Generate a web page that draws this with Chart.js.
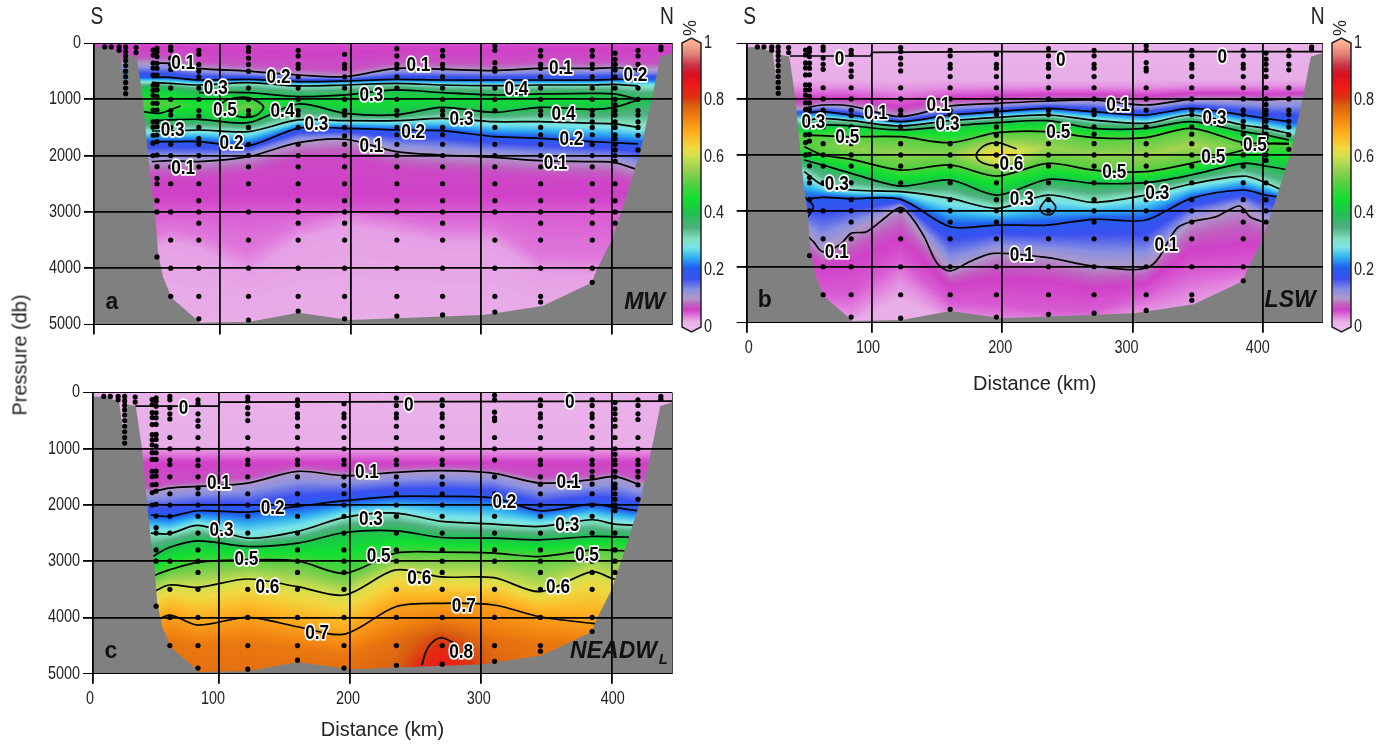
<!DOCTYPE html>
<html lang="en">
<head>
<meta charset="UTF-8">
<title>Tracer sections</title>
<script src="https://cdn.jsdelivr.net/npm/chart.js@4"></script>
<style>
  body { margin: 0; background: #fff; width: 1390px; height: 744px; overflow: hidden; position: relative; }
  canvas { position: absolute; }
  #pressure { position: absolute; left: 20px; top: 355px; transform: translate(-50%, -50%) rotate(-90deg);
    font: 20px "Liberation Sans", sans-serif; color: #222; white-space: nowrap; }
</style>
</head>
<body>
<canvas id="panelA" width="680" height="370" style="left:0;top:0"></canvas>
<canvas id="panelB" width="600" height="396" style="left:730px;top:0"></canvas>
<canvas id="panelC" width="680" height="367" style="left:0;top:375px"></canvas>
<canvas id="barA" width="60" height="360" style="left:670px;top:0"></canvas>
<canvas id="barB" width="60" height="360" style="left:1320px;top:0"></canvas>
<div id="pressure">Pressure (db)</div>
<script>
// axes
const xMin = 3.8, xMax = 446;
const xTickValues = [3.8, 100, 200, 300, 400, 446];
const xTickLabels = ['0', '100', '200', '300', '400', ''];
const yTickValues = [0, 1000, 2000, 3000, 4000, 5000];
const barTicks = [0, 0.2, 0.4, 0.6, 0.8, 1];

// colour scale
const cmapStops = [0, .02, .04, .06, .08, .1, .13, .17, .21, .245, .28, .31, .35, .4, .45, .5, .55, .6, .63, .68, .74, .78, .81, .85, .89, .92, .96, 1];
const cmapColors = ['#EDB8ED', '#E8AEE8', '#E078DC', '#D040C8', '#C060C0', '#B098C8', '#8A90E0', '#3A50F0', '#2060F0', '#30B0F0', '#78E4E8', '#80E0C0', '#50B080', '#20C050', '#10E030', '#50D040', '#90D050', '#D0E050', '#F0D840', '#FFB020', '#F08010', '#D86010', '#E03010', '#F01818', '#D81020', '#C83048', '#E08078', '#FFB090'];

// sea floor
const floorDist = [3.8, 12.3, 23.7, 28.3, 30.1, 36.5, 41.3, 45.2, 48, 50.5, 52.8, 56.6, 63.3, 85, 123, 160, 199.6, 301, 312, 347, 384.5, 389, 400, 408.5, 415, 421.5, 431.5, 437, 446];
const floorDepth = [70, 80, 155, 960, 213, 243, 1012, 1990, 2610, 3000, 3730, 4155, 4530, 4970, 4950, 4790, 4920, 4830, 4795, 4670, 4260, 4000, 3500, 2900, 2430, 1950, 890, 240, 180];

// bottle samples, same stations in all three sections
const stationDist = [12, 17, 23, 28, 36, 49, 52, 62.5, 84, 122, 160, 195.5, 235.5, 270.5, 310.5, 345.5, 385, 402.5, 420, 437.5];
const stationDepths = [
  [70], [70], [70, 130],
  [70, 150, 230, 310, 400, 500, 600, 700, 800, 900],
  [80, 170],
  [125, 214, 356, 445, 570, 750, 840, 930, 1070, 1190, 1400, 1495, 1640, 1780, 2000],
  [94, 154, 243, 361, 450, 568, 746, 834, 953, 1071, 1190, 1397, 1486, 1634, 1752, 1989, 2196, 2403, 2500, 2800, 3000, 3800],
  [70, 130, 270, 380, 470, 800, 1000, 1200, 1280, 1500, 1800, 2000, 2200, 2500, 3000, 3500, 4000, 4500],
  [130, 200, 380, 500, 600, 800, 1000, 1200, 1300, 1500, 1700, 1800, 2000, 2200, 2500, 2800, 3000, 3200, 3500, 4000, 4500, 4900],
  [80, 150, 270, 380, 500, 800, 1000, 1200, 1280, 1500, 1800, 2000, 2200, 2500, 3000, 3500, 4000, 4500, 4920],
  [130, 230, 380, 450, 600, 800, 1000, 1200, 1280, 1500, 1800, 2000, 2200, 2500, 2800, 3000, 3200, 3500, 4000, 4500, 4760],
  [200, 380, 450, 600, 800, 1000, 1200, 1280, 1500, 1650, 1800, 2000, 2200, 2500, 2800, 3000, 3200, 3500, 4000, 4500, 4900],
  [100, 230, 380, 450, 600, 800, 1000, 1200, 1280, 1500, 1630, 1800, 2000, 2200, 2500, 2800, 3000, 3500, 4000, 4500, 4850],
  [130, 230, 380, 450, 600, 800, 1000, 1200, 1280, 1500, 1630, 1800, 2000, 2200, 2500, 2800, 3000, 3200, 3500, 4000, 4500, 4830],
  [50, 130, 350, 450, 500, 800, 1000, 1200, 1500, 1800, 2000, 2200, 2500, 2800, 3000, 3500, 4000, 4500, 4780],
  [130, 230, 380, 450, 600, 800, 1000, 1200, 1280, 1500, 1630, 1800, 2000, 2200, 2500, 2800, 3000, 3200, 3500, 4000, 4500, 4600],
  [130, 230, 380, 450, 600, 800, 1000, 1200, 1280, 1400, 1500, 1630, 1800, 2000, 2200, 2500, 2800, 3000, 3200, 3500, 4000, 4250],
  [180, 290, 380, 480, 600, 800, 1000, 1100, 1200, 1280, 1400, 1500, 1630, 1700, 1800, 1900, 2000, 2100, 2500, 2800, 3000, 3200],
  [130, 230, 380, 480, 800, 1000, 1200, 1280, 1400, 1500, 1640, 1900],
  [70, 120]
];

// isoline pressures at these distances
const distCols = [48, 62, 84, 122, 160, 196, 235, 270, 310, 345, 385, 402, 420];

// section a, MW
const a07u = [230, 230, 320, 370, 440, 470, 320, 335, 360, 320, 320, 310, 340];
const a01u = [361, 361, 450, 500, 568, 598, 450, 465, 490, 450, 450, 440, 470];
const a02u = [610, 610, 657, 645, 686, 675, 645, 657, 657, 657, 657, 645, 645];
const a03u = [698, 716, 746, 704, 763, 746, 716, 746, 758, 746, 746, 734, 763];
const a04u = [787, 805, 882, 882, 953, 923, 834, 882, 923, 905, 894, 905, 1000];
const aCore = [1083, 1086, 1118, 1148, 1018, 1086, 1056, 1012, 1077, 1024, 1036, 1024, 1005];
const aCoreVal = [.5, .5, .46, .53, .42, .45, .44, .44, .44, .44, .44, .42, .4];
const a04l = [1379, 1367, 1355, 1415, 1083, 1249, 1278, 1142, 1231, 1142, 1178, 1142, 1010];
const a03l = [1563, 1563, 1545, 1574, 1367, 1379, 1379, 1338, 1397, 1397, 1426, 1438, 1497];
const a02l = [1752, 1752, 1752, 1823, 1515, 1515, 1545, 1557, 1663, 1693, 1752, 1770, 1793];
const a01l = [2107, 2090, 2107, 2018, 1770, 1710, 1930, 1989, 2030, 2090, 2107, 2119, 2255];
const a065 = [2407, 2390, 2407, 2318, 2070, 2010, 2230, 2289, 2330, 2390, 2407, 2419, 2555];
const a04d = [3430, 3310, 3400, 3700, 3250, 3000, 3150, 3300, 3300, 3800, 3800, 3800, 3800];
const a025 = [3680, 3560, 3650, 4120, 3500, 3260, 3410, 3550, 3550, 4090, 4150, 4150, 4150];
const a05LoopX = [97.7, 105.4, 122, 133.5, 128.4, 118.2, 105.4, 97.7];
const a05LoopP = [1160, 1012, 970, 1130, 1278, 1320, 1249, 1160];
const a05LeftX = [41, 54, 70];
const a05LeftP = [1219, 1249, 1119];
const aLabelText = ['0.1', '0.3', '0.2', '0.5', '0.4', '0.3', '0.3', '0.2', '0.1', '0.1', '0.3', '0.4', '0.1', '0.2', '0.4', '0.3', '0.2', '0.2', '0.1', '0.1'];
const aLabelX = [72, 97, 145, 104, 148, 174, 64, 109, 72, 252, 216, 327, 361, 418, 363, 285, 248, 369, 216, 357];
const aLabelP = [355, 800, 604, 1190, 1208, 1439, 1545, 1776, 2220, 391, 924, 817, 444, 568, 1261, 1350, 1581, 1705, 1829, 2131];

// section b, LSW
const bZeroX = [37, 99, 100, 196, 446];
const bZeroP = [232, 232, 167, 155, 155];
const b06u = [1020, 980, 980, 1150, 980, 950, 920, 920, 950, 900, 900, 920, 900];
const b03u = [780, 780, 780, 830, 780, 780, 780, 780, 780, 760, 760, 760, 760];
const b01u = [1168, 1108, 1126, 1317, 1126, 1079, 1037, 1019, 1108, 1007, 1007, 1019, 995];
const b02u = [1257, 1228, 1287, 1406, 1287, 1228, 1168, 1228, 1287, 1168, 1287, 1347, 1406];
const bC3u = [1389, 1347, 1389, 1484, 1389, 1329, 1287, 1377, 1436, 1287, 1466, 1526, 1615];
const b04u = [1508, 1466, 1484, 1555, 1484, 1424, 1389, 1526, 1526, 1406, 1585, 1645, 1734];
const b05u = [1645, 1657, 1675, 1675, 1782, 1603, 1585, 1692, 1692, 1526, 1782, 1794, 1794];
const bCore = [1749, 1830, 1878, 1973, 1982, 2002, 1868, 1982, 1996, 1838, 1848, 1800, 1800];
const bCoreVal = [.5, .52, .55, .55, .54, .65, .56, .55, .56, .57, .53, .51, .51];
const b05l = [1853, 2002, 2080, 2271, 2181, 2378, 2151, 2271, 2300, 2151, 1913, 1806, 1806];
const b04l = [2092, 2181, 2330, 2557, 2449, 2718, 2437, 2509, 2497, 2360, 2151, 2199, 2271];
const bC3l = [2300, 2539, 2628, 2658, 2777, 2956, 2718, 2849, 2718, 2521, 2378, 2497, 2688];
const b02l = [2800, 2759, 2783, 2795, 3284, 3254, 3254, 3152, 3164, 2777, 2628, 2717, 2777];
const b01l = [3403, 3731, 3403, 2938, 4076, 3760, 3838, 3987, 3999, 3194, 2914, 3194, 3250];
const b06d = [3800, 4000, 3900, 3500, 4350, 4200, 4250, 4400, 4300, 3700, 3600, 3600, 3600];
const b05d = [4200, 4500, 4500, 3900, 4650, 4700, 4800, 4800, 4500, 4100, 4000, 4000, 4000];
const b03d = [4500, 4800, 4900, 4300, 4900, 5000, 5000, 5000, 4800, 4600, 4300, 4300, 4300];
const b02d = [5000, 5000, 5000, 4600, 5000, 5000, 5000, 5000, 5000, 5000, 5000, 5000, 5000];
const b01LineX = [48, 55, 62, 75, 84, 96, 111, 122, 130, 140, 150, 160, 175, 193, 235, 270, 313, 334, 345, 364, 382, 390, 400, 410];
const b01LineP = [3403, 3552, 3731, 3611, 3403, 3373, 3105, 2938, 3105, 3462, 3939, 4076, 3909, 3760, 3838, 3987, 3999, 3313, 3194, 3105, 2914, 3105, 3194, 3254];
const b06LineX = [211, 205, 196, 186, 180, 182, 190, 197];
const b06LineP = [1895, 1841, 1782, 1836, 1990, 2104, 2181, 2193];
const bTriX = [235, 241, 238, 232, 229, 235];
const bTriP = [2759, 2926, 3057, 3057, 2956, 2759];
const bEdgeX = [48, 55, 48];
const bEdgeP = [2747, 2926, 3194];
const bLabelText = ['0', '0', '0', '0.1', '0.1', '0.3', '0.3', '0.5', '0.5', '0.6', '0.3', '0.3', '0.1', '0.3', '0.5', '0.5', '0.5', '0.3', '0.1', '0.1', '0.1'];
const bLabelX = [75, 245, 369, 103, 151, 55, 158, 81, 243, 207, 73, 215, 289, 363, 394, 362, 286, 319, 73, 215, 326];
const bLabelP = [286, 304, 250, 1252, 1109, 1412, 1448, 1680, 1591, 2163, 2521, 2789, 1109, 1341, 1824, 2038, 2306, 2682, 3737, 3791, 3612];

// section c, NEADW lower
const cZeroX = [36, 100, 100.5, 446];
const cZeroP = [243, 243, 172, 154];
const c07u = [1670, 1600, 1570, 1500, 1300, 1370, 1320, 1290, 1340, 1500, 1450, 1390, 1520];
const c01 = [1770, 1699, 1669, 1610, 1402, 1479, 1419, 1390, 1437, 1610, 1550, 1491, 1627];
const c02 = [2174, 2204, 2103, 2126, 2025, 1924, 1847, 1847, 1877, 2103, 1984, 2043, 2103];
const c03 = [2501, 2512, 2364, 2590, 2471, 2221, 2144, 2293, 2340, 2382, 2263, 2340, 2364];
const c04 = [2934, 2756, 2637, 2738, 2679, 2489, 2459, 2578, 2590, 2619, 2560, 2566, 2578];
const c05 = [3274, 3155, 3019, 2977, 2995, 3215, 2857, 2839, 2857, 2916, 2797, 2809, 2827];
const c06 = [3571, 3423, 3464, 3316, 3452, 3601, 3155, 3280, 3292, 3541, 3185, 3316, 3300];
const c07 = [4130, 3957, 4135, 3999, 4165, 4296, 3809, 3749, 3779, 3987, 4106, 4150, 4150];
const cDeep = [4500, 4400, 4500, 4450, 4550, 4650, 4400, 4361, 4400, 4450, 4450, 4500, 4500];
const cDeepVal = [.75, .75, .75, .75, .75, .75, .76, .8, .76, .75, .75, .75, .75];
const cBotVal = [.76, .76, .76, .76, .76, .76, .78, .86, .78, .76, .76, .76, .76];
const c08LineX = [255, 258, 263, 270, 279];
const c08LineP = [4850, 4611, 4440, 4361, 4444];
const cLabelText = ['0', '0', '0', '0.1', '0.1', '0.1', '0.2', '0.2', '0.3', '0.3', '0.3', '0.5', '0.5', '0.5', '0.6', '0.6', '0.6', '0.7', '0.7', '0.8'];
const cLabelX = [73, 245, 368, 100, 213, 367, 141, 318, 102, 216, 366, 121, 222, 381, 137, 253, 359, 175, 287, 285];
const cLabelP = [285, 232, 178, 1605, 1426, 1587, 2050, 1943, 2443, 2247, 2354, 2960, 2906, 2889, 3459, 3299, 3459, 4279, 3798, 4618];

const SANS = '"Liberation Sans", sans-serif';

// rows are [value, pressures], from the surface down; a single number means a flat row
const aRows = [[.055, 0], [.07, a07u], [.1, a01u], [.2, a02u], [.3, a03u], [.4, a04u], [aCoreVal, aCore], [.4, a04l], [.3, a03l], [.2, a02l], [.1, a01l], [.065, a065], [.06, 2700], [.05, 3000], [.04, a04d], [.025, a025], [.02, 5000]];
const bRows = [[.015, 0], [.02, 650], [.03, b03u], [.06, b06u], [.1, b01u], [.2, b02u], [.3, bC3u], [.4, b04u], [.5, b05u], [bCoreVal, bCore], [.5, b05l], [.4, b04l], [.3, bC3l], [.2, b02l], [.1, b01l], [.06, b06d], [.05, b05d], [.03, b03d], [.02, b02d]];
const cRows = [[.015, 0], [.02, 950], [.04, 1100], [.06, 1250], [.07, c07u], [.1, c01], [.2, c02], [.3, c03], [.4, c04], [.5, c05], [.6, c06], [.7, c07], [cDeepVal, cDeep], [cBotVal, 4950]];

const aLines = [[distCols, a01u], [distCols, a02u], [distCols, a03u], [distCols.slice(2), a04u.slice(2)], [distCols, a04l], [distCols, a03l], [distCols, a02l], [distCols, a01l], [a05LoopX, a05LoopP], [a05LeftX, a05LeftP]];
const bLines = [[bZeroX, bZeroP, 0], [distCols, b01u], [distCols, b02u], [distCols, bC3u], [distCols, b04u], [distCols, b05u], [distCols, b05l], [distCols, b04l], [distCols, bC3l], [distCols, b02l], [b01LineX, b01LineP], [b06LineX, b06LineP], [bTriX, bTriP], [bEdgeX, bEdgeP]];
const cLines = [[cZeroX, cZeroP, 0], [distCols, c01], [distCols, c02], [distCols, c03], [distCols, c04], [distCols, c05], [distCols, c06], [distCols, c07], [c08LineX, c08LineP]];

// colour lookup
function hexRgb(h) { return [parseInt(h.slice(1, 3), 16), parseInt(h.slice(3, 5), 16), parseInt(h.slice(5, 7), 16)]; }
const cmapRgb = cmapColors.map(hexRgb);
function colorAt(v) {
  let i = 0;
  while (i < cmapStops.length - 2 && cmapStops[i + 1] < v) i++;
  const t = Math.max(0, Math.min(1, (v - cmapStops[i]) / (cmapStops[i + 1] - cmapStops[i])));
  return [0, 1, 2].map(k => cmapRgb[i][k] + (cmapRgb[i + 1][k] - cmapRgb[i][k]) * t);
}
const lut = [];
for (let i = 0; i <= 1000; i++) lut.push(colorAt(i / 1000));

// the figure's lettering is condensed, and no condensed font is installed
function squeezed(ctx, text, x, y, sx, halo) {
  ctx.save();
  ctx.translate(x, y);
  ctx.scale(sx, 1);
  if (halo) {
    ctx.strokeStyle = '#fff';
    ctx.lineWidth = 3.5;
    ctx.lineJoin = 'round';
    ctx.strokeText(text, 0, 0);
  }
  ctx.fillText(text, 0, 0);
  ctx.restore();
}

// paints the value field under the datasets, pixel by pixel through the chart scales
const fieldPlugin = {
  id: 'field',
  beforeDatasetsDraw(chart, args, opts) {
    const { ctx, chartArea: ar, scales } = chart;
    const L = Math.round(ar.left), T = Math.round(ar.top);
    const W = Math.round(ar.right) - L, H = Math.round(ar.bottom) - T;
    const img = ctx.createImageData(W, H);
    const rows = opts.rows;
    for (let px = 0; px < W; px++) {
      const km = scales.x.getValueForPixel(L + px + 0.5);
      let c = 0;
      while (c < distCols.length - 2 && distCols[c + 1] < km) c++;
      const t = Math.max(0, Math.min(1, (km - distCols[c]) / (distCols[c + 1] - distCols[c])));
      const at = r => typeof r === 'number' ? r : r[c] + (r[c + 1] - r[c]) * t;
      const ps = rows.map(r => at(r[1]));
      const vs = rows.map(r => at(r[0]));
      let k = 0;
      for (let py = 0; py < H; py++) {
        const p = scales.y.getValueForPixel(T + py + 0.5);
        while (k < ps.length - 2 && ps[k + 1] < p) k++;
        const d = ps[k + 1] - ps[k];
        const f = d > 0 ? Math.max(0, Math.min(1, (p - ps[k]) / d)) : 1;
        const v = vs[k] + (vs[k + 1] - vs[k]) * f;
        const col = lut[Math.round(Math.max(0, Math.min(1, v)) * 1000)];
        const o = (py * W + px) * 4;
        img.data[o] = col[0]; img.data[o + 1] = col[1]; img.data[o + 2] = col[2]; img.data[o + 3] = 255;
      }
    }
    ctx.putImageData(img, L, T);
  }
};

// tick labels, contour labels and the panel lettering
const textPlugin = {
  id: 'panelText',
  afterDraw(chart, args, opts) {
    const { ctx, chartArea: ar, scales } = chart;
    ctx.save();
    ctx.textBaseline = 'middle';
    ctx.fillStyle = '#222';
    ctx.font = '18px ' + SANS;
    if (opts.yLabels) {
      ctx.textAlign = 'right';
      yTickValues.forEach(v => squeezed(ctx, String(v), ar.left - 13, scales.y.getPixelForValue(v), 0.8));
    }
    if (opts.xShift) {
      ctx.textAlign = 'center';
      xTickValues.forEach((v, i) => squeezed(ctx, xTickLabels[i], scales.x.getPixelForValue(v) + opts.xShift[i], ar.bottom + 25, 0.8));
    }
    ctx.textAlign = 'center';
    ctx.fillStyle = '#000';
    ctx.font = 'bold 21px ' + SANS;
    opts.text.forEach((t, i) => {
      squeezed(ctx, t, scales.x.getPixelForValue(opts.x[i]), scales.y.getPixelForValue(opts.p[i]), 0.82, true);
    });
    ctx.fillStyle = '#111';
    ctx.font = 'bold 23px ' + SANS;
    ctx.fillText(opts.letter, ar.left + 18, ar.bottom - 22);
    ctx.textAlign = 'right';
    ctx.font = 'italic bold 23px ' + SANS;
    if (opts.sub) {
      ctx.fillText(opts.tag, ar.right - 15, ar.bottom - 22);
      ctx.font = 'italic bold 15px ' + SANS;
      ctx.fillText(opts.sub, ar.right - 4, ar.bottom - 14);
    } else {
      ctx.fillText(opts.tag, ar.right - 7, ar.bottom - 22);
    }
    if (opts.ends) {
      ctx.textAlign = 'center';
      ctx.font = '24px ' + SANS;
      ctx.fillStyle = '#222';
      squeezed(ctx, 'S', ar.left + 3, 17, 0.8);
      squeezed(ctx, 'N', ar.right - 5, 17, 0.8);
    }
    ctx.restore();
  }
};

function makePanel(id, cfg) {
  const canvas = document.getElementById(id);
  const points = [];
  stationDist.forEach((d, i) => stationDepths[i].forEach(p => points.push({ x: d, y: p })));
  const datasets = [{
    data: points, showLine: false, pointRadius: 2.6, pointBackgroundColor: '#000', pointBorderWidth: 0, order: 0
  }, {
    data: floorDist.map((d, i) => ({ x: d, y: floorDepth[i] })), showLine: true, pointRadius: 0,
    borderWidth: 0, borderColor: '#808080', backgroundColor: '#808080', fill: 'start', tension: 0, order: 1
  }];
  cfg.lines.forEach(l => datasets.push({
    data: l[0].map((d, i) => ({ x: d, y: l[1][i] })), showLine: true, pointRadius: 0,
    borderColor: '#000', borderWidth: 1.7, fill: false, tension: l[2] === 0 ? 0 : 0.3, order: 2
  }));
  return new Chart(canvas, {
    type: 'scatter',
    data: { datasets },
    plugins: [fieldPlugin, textPlugin],
    options: {
      responsive: false, animation: false, devicePixelRatio: 1, events: [],
      layout: { padding: { left: 0, top: cfg.top, right: canvas.width - cfg.right, bottom: 0 } },
      plugins: {
        legend: { display: false }, tooltip: { enabled: false },
        field: { rows: cfg.rows },
        panelText: { text: cfg.labelText, x: cfg.labelX, p: cfg.labelP, letter: cfg.letter, tag: cfg.tag, sub: cfg.sub, ends: cfg.ends, xShift: cfg.xShift, yLabels: cfg.yLabels }
      },
      scales: {
        x: {
          type: 'linear', min: xMin, max: xMax, position: 'bottom',
          afterBuildTicks(s) { s.ticks = xTickValues.map(v => ({ value: v })); },
          afterFit(s) { s.height = canvas.height - cfg.bottom; },
          border: { display: false },
          grid: {
            z: 1, color: ctx => ctx.tick.value === xMax ? '#444' : '#000',
            lineWidth: ctx => ctx.tick.value === xMax ? 1 : 1.8,
            tickLength: 10, tickColor: ctx => ctx.tick.value === xMax ? 'rgba(0,0,0,0)' : '#000'
          },
          ticks: { autoSkip: false, maxRotation: 0, callback: () => '' },
          title: { display: !!cfg.xShift, text: 'Distance (km)', color: '#222', padding: { top: 12, bottom: 0 }, font: { family: SANS, size: 20 } }
        },
        y: {
          type: 'linear', reverse: true, min: 0, max: 5000,
          afterBuildTicks(s) { s.ticks = yTickValues.map(v => ({ value: v })); },
          afterFit(s) { s.width = cfg.left; },
          border: { display: false },
          grid: {
            z: 1, color: '#000', lineWidth: ctx => (ctx.tick.value === 0 || ctx.tick.value === 5000) ? 1 : 1.8,
            tickLength: 10, tickColor: '#000'
          },
          ticks: { autoSkip: false, callback: () => '' }
        }
      }
    }
  });
}

// gradient bar with pointed ends, drawn on the value axis of a small chart
const barPlugin = {
  id: 'colorBar',
  afterDraw(chart) {
    const { ctx, chartArea: ar, scales } = chart;
    const y0 = scales.y.getPixelForValue(0), y1 = scales.y.getPixelForValue(1);
    const mid = (ar.left + ar.right) / 2;
    const grad = ctx.createLinearGradient(0, y0, 0, y1);
    cmapStops.forEach((s, i) => grad.addColorStop(s, cmapColors[i]));
    ctx.save();
    ctx.beginPath();
    ctx.moveTo(ar.left, y1);
    ctx.lineTo(mid, y1 - 5);
    ctx.lineTo(ar.right, y1);
    ctx.lineTo(ar.right, y0);
    ctx.lineTo(mid, y0 + 5);
    ctx.lineTo(ar.left, y0);
    ctx.closePath();
    ctx.fillStyle = grad;
    ctx.fill();
    ctx.strokeStyle = '#222';
    ctx.lineWidth = 1.5;
    ctx.stroke();
    ctx.font = '18px ' + SANS;
    ctx.fillStyle = '#222';
    ctx.textBaseline = 'middle';
    ctx.textAlign = 'left';
    barTicks.forEach(v => squeezed(ctx, String(v), ar.right + 3, scales.y.getPixelForValue(v), 0.8));
    ctx.textAlign = 'center';
    ctx.translate(mid, 28);
    ctx.rotate(-Math.PI / 2);
    ctx.fillText('%', 0, 0);
    ctx.restore();
  }
};

function makeBar(id) {
  const canvas = document.getElementById(id);
  return new Chart(canvas, {
    type: 'scatter',
    data: { datasets: [{ data: [] }] },
    plugins: [barPlugin],
    options: {
      responsive: false, animation: false, devicePixelRatio: 1, events: [],
      layout: { padding: { left: 12, top: 43, right: 0, bottom: canvas.height - 327 } },
      plugins: { legend: { display: false }, tooltip: { enabled: false } },
      scales: {
        x: { display: false, min: 0, max: 1 },
        y: {
          position: 'right', min: 0, max: 1,
          afterBuildTicks(s) { s.ticks = barTicks.map(v => ({ value: v })); },
          afterFit(s) { s.width = 29; },
          border: { display: false },
          grid: { display: false, drawTicks: false },
          ticks: { autoSkip: false, callback: () => '' }
        }
      }
    }
  });
}

makePanel('panelA', { left: 94, right: 672, top: 43, bottom: 324.5, rows: aRows, lines: aLines, labelText: aLabelText, labelX: aLabelX, labelP: aLabelP, letter: 'a', tag: 'MW', ends: true, yLabels: true });
makePanel('panelB', { left: 16.7, right: 592.7, top: 43, bottom: 322.7, rows: bRows, lines: bLines, labelText: bLabelText, labelX: bLabelX, labelP: bLabelP, letter: 'b', tag: 'LSW', ends: true, xShift: [2, -4, -2, -6, -5, 0], yLabels: false });
makePanel('panelC', { left: 93, right: 672, top: 17.5, bottom: 298.7, rows: cRows, lines: cLines, labelText: cLabelText, labelX: cLabelX, labelP: cLabelP, letter: 'c', tag: 'NEADW', sub: 'L', ends: false, xShift: [-3, -6, -2, -2, 1, 0], yLabels: true });
makeBar('barA');
makeBar('barB');
</script>
</body>
</html>
